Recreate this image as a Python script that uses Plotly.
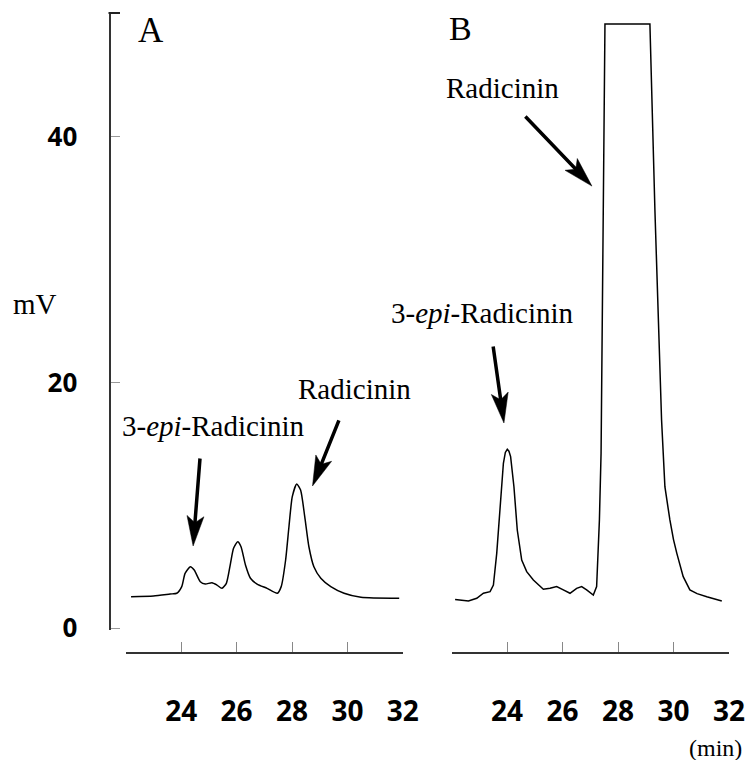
import math
import plotly.graph_objects as go

W, H = 747, 760

# Panel A chromatogram (retention time in min, signal in mV)
time_a = [22.19, 23.00, 23.60, 23.84, 24.02, 24.14, 24.33, 24.47, 24.69, 24.87,
          25.11, 25.29, 25.47, 25.63, 25.78, 25.89, 26.04, 26.16, 26.32, 26.50,
          26.74, 27.10, 27.47, 27.61, 27.77, 27.89, 28.01, 28.17, 28.31, 28.46,
          28.61, 28.79, 29.04, 29.40, 29.88, 30.49, 31.87]
mv_a = [2.55, 2.61, 2.77, 2.83, 3.37, 4.45, 4.99, 4.72, 3.77, 3.58,
        3.69, 3.50, 3.23, 3.64, 5.27, 6.49, 7.03, 6.62, 5.13, 4.05,
        3.58, 3.23, 2.83, 3.37, 5.54, 8.25, 10.70, 11.73, 11.24, 9.07,
        6.62, 4.99, 4.05, 3.37, 2.83, 2.50, 2.42]

# Panel B chromatogram (detector saturated at the top of the radicinin peak)
time_b = [22.13, 22.61, 22.91, 23.15, 23.39, 23.51, 23.63, 23.75, 23.87, 23.94,
          24.01, 24.07, 24.13, 24.25, 24.37, 24.53, 24.71, 24.95, 25.31, 25.55,
          25.79, 26.03, 26.27, 26.51, 26.69, 26.87, 27.11, 27.23, 27.33, 27.39,
          27.46, 27.53, 29.15, 29.33, 29.57, 29.69, 29.87, 30.00, 30.12, 30.35,
          30.59, 30.85, 31.20, 31.74]
mv_b = [2.33, 2.20, 2.42, 2.83, 2.96, 3.50, 6.08, 10.16, 13.42, 14.30,
        14.56, 14.40, 13.96, 11.51, 7.98, 5.54, 4.59, 3.91, 3.15, 3.23,
        3.37, 3.10, 2.83, 3.23, 3.37, 3.10, 2.69, 3.37, 8.80, 14.23,
        34.05, 49.2, 49.2, 34.05, 16.95, 11.51, 8.80, 7.20, 6.08, 4.18,
        3.10, 2.80, 2.55, 2.20]

x_label_vals = [24, 26, 28, 30, 32]
x_label_text = ["24", "26", "28", "30", "32"]
x_tick_vals = [24, 26, 28, 30]
y_tick_vals = [0, 20, 40]
y_tick_text = ["0", "20", "40"]


def px(x):
    return x / W


def py(y):
    return 1 - y / H


SERIF = "Liberation Serif, Times New Roman, serif"
TICKFONT_X = dict(family="Open Sans, Noto Sans, sans-serif", size=28, color="black", weight="bold")
TICKFONT_Y = dict(family="Open Sans, Noto Sans, sans-serif", size=26, color="black", weight="bold")

fig = go.Figure()
fig.add_trace(go.Scatter(x=time_a, y=mv_a, xaxis="x", yaxis="y", mode="lines",
                         line=dict(color="black", width=1.5, shape="spline", smoothing=0.6),
                         showlegend=False, hoverinfo="skip"))
fig.add_trace(go.Scatter(x=time_b, y=mv_b, xaxis="x2", yaxis="y", mode="lines",
                         line=dict(color="black", width=1.5),
                         showlegend=False, hoverinfo="skip"))
# empty traces so the label-only overlay axes get drawn
fig.add_trace(go.Scatter(x=[None], y=[None], xaxis="x3", yaxis="y", mode="lines",
                         showlegend=False, hoverinfo="skip"))
fig.add_trace(go.Scatter(x=[None], y=[None], xaxis="x4", yaxis="y", mode="lines",
                         showlegend=False, hoverinfo="skip"))

xpos = py(653)
dom_a = [px(125.8), px(402.8)]
dom_b = [px(451.5), px(729)]

line_axis = dict(range=[22, 32], showline=True, linecolor="#333", linewidth=2,
                 ticks="inside", ticklen=10, tickwidth=1, tickcolor="#888",
                 tickmode="array", tickvals=x_tick_vals, showticklabels=False,
                 showgrid=False, zeroline=False, anchor="free", position=xpos, fixedrange=True)
label_axis = dict(range=[22, 32], showline=False, ticks="", tickmode="array",
                  tickvals=x_label_vals, ticktext=x_label_text, tickfont=TICKFONT_X,
                  ticklabelstandoff=39, ticklabeloverflow="allow",
                  showgrid=False, zeroline=False,
                  anchor="free", position=xpos, fixedrange=True)

fig.update_layout(
    width=W, height=H,
    margin=dict(l=0, r=0, t=0, b=0, autoexpand=False),
    paper_bgcolor="white", plot_bgcolor="rgba(0,0,0,0)",
    showlegend=False,
    xaxis=dict(domain=dom_a, **line_axis),
    xaxis2=dict(domain=dom_b, **line_axis),
    xaxis3=dict(overlaying="x", **label_axis),
    xaxis4=dict(overlaying="x2", **label_axis),
    yaxis=dict(domain=[py(630), py(13)], range=[-0.163, 50.1], anchor="free", position=px(109.5),
               showline=True, linecolor="#333", linewidth=2,
               ticks="inside", ticklen=9, tickwidth=1, tickcolor="#999",
               tickmode="array", tickvals=y_tick_vals, ticktext=y_tick_text,
               tickfont=TICKFONT_Y, ticklabelstandoff=26,
               showgrid=False, zeroline=False, fixedrange=True),
)

# small cap at the top of the y axis
fig.add_shape(type="line", xref="paper", yref="paper",
              x0=px(108.5), x1=px(120), y0=py(13), y1=py(13),
              line=dict(color="#222", width=2))


def text_ann(txt, cx, cy, size, xanchor="center"):
    fig.add_annotation(text=txt, xref="paper", yref="paper", x=px(cx), y=py(cy),
                       xanchor=xanchor, yanchor="middle", showarrow=False,
                       font=dict(family=SERIF, size=size, color="black"))


text_ann("A", 150.5, 30, 35)
text_ann("B", 460, 29, 34)
text_ann("mV", 35, 304, 29)
text_ann("Radicinin", 354, 389, 29)
text_ann("3-<i>epi</i>-Radicinin", 213, 426, 29)
text_ann("Radicinin", 502.5, 88, 29)
text_ann("3-<i>epi</i>-Radicinin", 482, 313, 29)
text_ann("(min)", 715, 748, 24)


def arrow(xref, x, y, ax, ay, head_len=30, head_w=17):
    # shaft
    fig.add_annotation(text="", xref=xref, yref="y", x=x, y=y, ax=ax, ay=ay,
                       showarrow=True, arrowhead=0, arrowwidth=3.5,
                       arrowcolor="black", standoff=8)
    # long, narrow notched head (pixel-sized path anchored at the tip)
    n = math.hypot(ax, ay)
    dx, dy = -ax / n, -ay / n          # screen direction tail -> tip (y down)
    nx, ny = -dy, dx
    pts = [(0, 0),
           (-head_len * dx + head_w / 2 * nx, -head_len * dy + head_w / 2 * ny),
           (-0.78 * head_len * dx, -0.78 * head_len * dy),
           (-head_len * dx - head_w / 2 * nx, -head_len * dy - head_w / 2 * ny)]
    path = "M " + " L ".join(f"{sx:.2f},{-sy:.2f}" for sx, sy in pts) + " Z"
    fig.add_shape(type="path", xref=xref, yref="y", xsizemode="pixel", ysizemode="pixel",
                  xanchor=x, yanchor=y, path=path,
                  fillcolor="black", line=dict(color="black", width=0.5))


arrow("x", 24.43, 6.68, 7, -89)
arrow("x", 28.74, 11.57, 27, -67)
arrow("x2", 23.89, 16.7, -11, -78)
arrow("x2", 27.06, 36.0, -68, -71)

fig.write_html("out.html")
